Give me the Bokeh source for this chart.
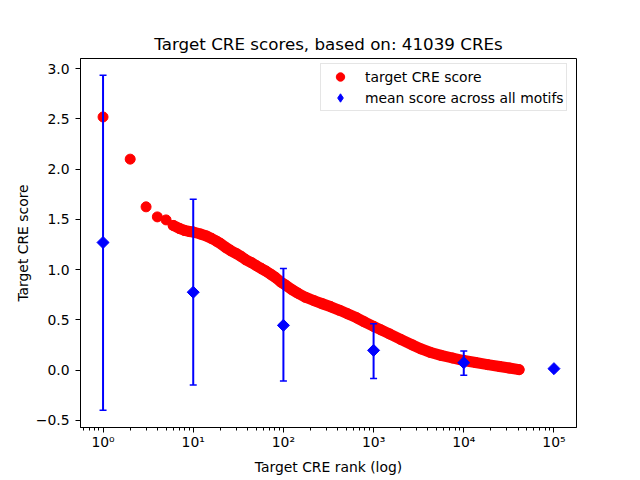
import numpy as np
from bokeh.plotting import figure
from bokeh.models import (Range1d, FixedTicker, CustomJSTickFormatter, Legend,
                          LegendItem)
from bokeh.embed import file_html
from bokeh.resources import INLINE

# ---------------- data ----------------
ranks = [1, 2, 3, 4, 5, 6, 7, 8, 9, 10, 12, 14, 16, 18, 20, 23, 26, 30, 34, 38,
         44, 50, 57, 64, 72, 82, 94, 106, 125, 145, 175, 220, 270, 336, 420,
         515, 650, 790, 1000, 1210, 1500, 2000, 2700, 3370, 4300, 5600, 7500,
         10000, 13500, 18400, 25000, 32000, 41039]
scores = [2.52, 2.10, 1.625, 1.525, 1.495, 1.44, 1.41, 1.39, 1.38, 1.375,
          1.355, 1.335, 1.31, 1.285, 1.26, 1.22, 1.19, 1.16, 1.13, 1.10,
          1.07, 1.04, 1.01, 0.985, 0.955, 0.92, 0.875, 0.845, 0.80, 0.765,
          0.725, 0.69, 0.66, 0.63, 0.595, 0.56, 0.52, 0.48, 0.435, 0.40,
          0.36, 0.305, 0.25, 0.21, 0.175, 0.146, 0.12, 0.095, 0.075, 0.054,
          0.035, 0.02, 0.004]

motif_rank = [1, 10, 100, 1000, 10000, 100000]
motif_mean = [1.27, 0.775, 0.445, 0.196, 0.073, 0.014]
motif_low = [-0.40, -0.15, -0.11, -0.085, -0.053, 0.014]
motif_high = [2.935, 1.70, 1.01, 0.46, 0.19, 0.014]

x_ticks = [1, 10, 100, 1000, 10000, 100000]
y_ticks = [-0.5, 0.0, 0.5, 1.0, 1.5, 2.0, 2.5, 3.0]

title_text = "Target CRE scores, based on: 41039 CREs"
x_label = "Target CRE rank (log)"
y_label = "Target CRE score"
legend_labels = ["target CRE score", "mean score across all motifs"]

FONT = "DejaVu Sans"
FS = "13.9px"

# ---------------- figure ----------------
p = figure(width=640, height=480, x_axis_type="log",
           x_range=Range1d(10 ** -0.25, 10 ** 5.25),
           y_range=Range1d(-0.572, 3.102),
           output_backend="svg", toolbar_location=None,
           min_border_left=80, min_border_right=64,
           min_border_top=58, min_border_bottom=53,
           title=title_text)

p.background_fill_color = "white"
p.border_fill_color = "white"
p.outline_line_color = "black"
p.outline_line_width = 1
p.xgrid.visible = False
p.ygrid.visible = False

p.title.align = "center"
p.title.text_font = FONT
p.title.text_font_size = "16.7px"
p.title.text_font_style = "normal"
p.title.text_color = "black"

minor = [m * 10 ** k for k in range(-1, 6) for m in range(2, 10)]
p.xaxis.ticker = FixedTicker(ticks=x_ticks, minor_ticks=minor)
p.xaxis.formatter = CustomJSTickFormatter(code="""
const sup = {"0":"⁰","1":"¹","2":"²","3":"³","4":"⁴","5":"⁵","6":"⁶","7":"⁷","8":"⁸","9":"⁹","-":"⁻"};
const e = Math.round(Math.log10(tick));
return "10" + String(e).split("").map(c => sup[c]).join("");
""")
p.yaxis.ticker = FixedTicker(ticks=y_ticks)
p.yaxis.formatter = CustomJSTickFormatter(code="""
return tick.toFixed(1).replace("-", "\u2212");
""")

for ax in (p.xaxis[0], p.yaxis[0]):
    ax.axis_line_color = "black"
    ax.major_tick_line_color = "black"
    ax.minor_tick_line_color = "black"
    ax.major_tick_in = 0
    ax.major_tick_out = 5
    ax.minor_tick_in = 0
    ax.minor_tick_out = 3
    ax.major_label_text_font = FONT
    ax.major_label_text_font_size = FS
    ax.major_label_text_color = "black"
    ax.axis_label_text_font = FONT
    ax.axis_label_text_font_size = FS
    ax.axis_label_text_font_style = "normal"
    ax.axis_label_text_color = "black"

p.yaxis.minor_tick_line_color = None
p.xaxis.axis_label = x_label
p.yaxis.axis_label = y_label
p.xaxis.major_label_standoff = 1
p.yaxis.major_label_standoff = 6
p.xaxis.axis_label_standoff = 6
p.yaxis.axis_label_standoff = 2

# ---------------- glyphs ----------------
p.line(ranks[5:], scores[5:], line_width=11, color="red",
       line_cap="round", line_join="round")
r_red = p.scatter(ranks, scores, size=10, marker="circle", color="red")

p.segment(x0=motif_rank, y0=motif_low, x1=motif_rank, y1=motif_high,
          line_width=2, color="blue")
p.scatter(motif_rank, motif_high, marker="dash", size=7, line_width=1.5,
          color="blue")
p.scatter(motif_rank, motif_low, marker="dash", size=7, line_width=1.5,
          color="blue")
# diamond glyph used for the legend (hidden below the rotated squares)
r_blue_leg = p.scatter(motif_rank, motif_mean, marker="diamond", size=9,
                       color="blue")
p.scatter(motif_rank, motif_mean, marker="square", angle=np.pi / 4,
          size=8.5, color="blue")

legend = Legend(items=[LegendItem(label=legend_labels[0], renderers=[r_red]),
                       LegendItem(label=legend_labels[1],
                                  renderers=[r_blue_leg])],
                location=(240, 316))
legend.margin = 0
legend.padding = 2
legend.spacing = 0
legend.glyph_width = 34
legend.glyph_height = 21
legend.label_height = 21
legend.label_standoff = 8
legend.label_text_font = FONT
legend.label_text_font_size = FS
legend.label_text_color = "black"
legend.border_line_color = "#cccccc"
legend.border_line_width = 1
legend.background_fill_color = "white"
legend.background_fill_alpha = 0.8
p.add_layout(legend)

open("out.html", "w").write(file_html(p, INLINE))
